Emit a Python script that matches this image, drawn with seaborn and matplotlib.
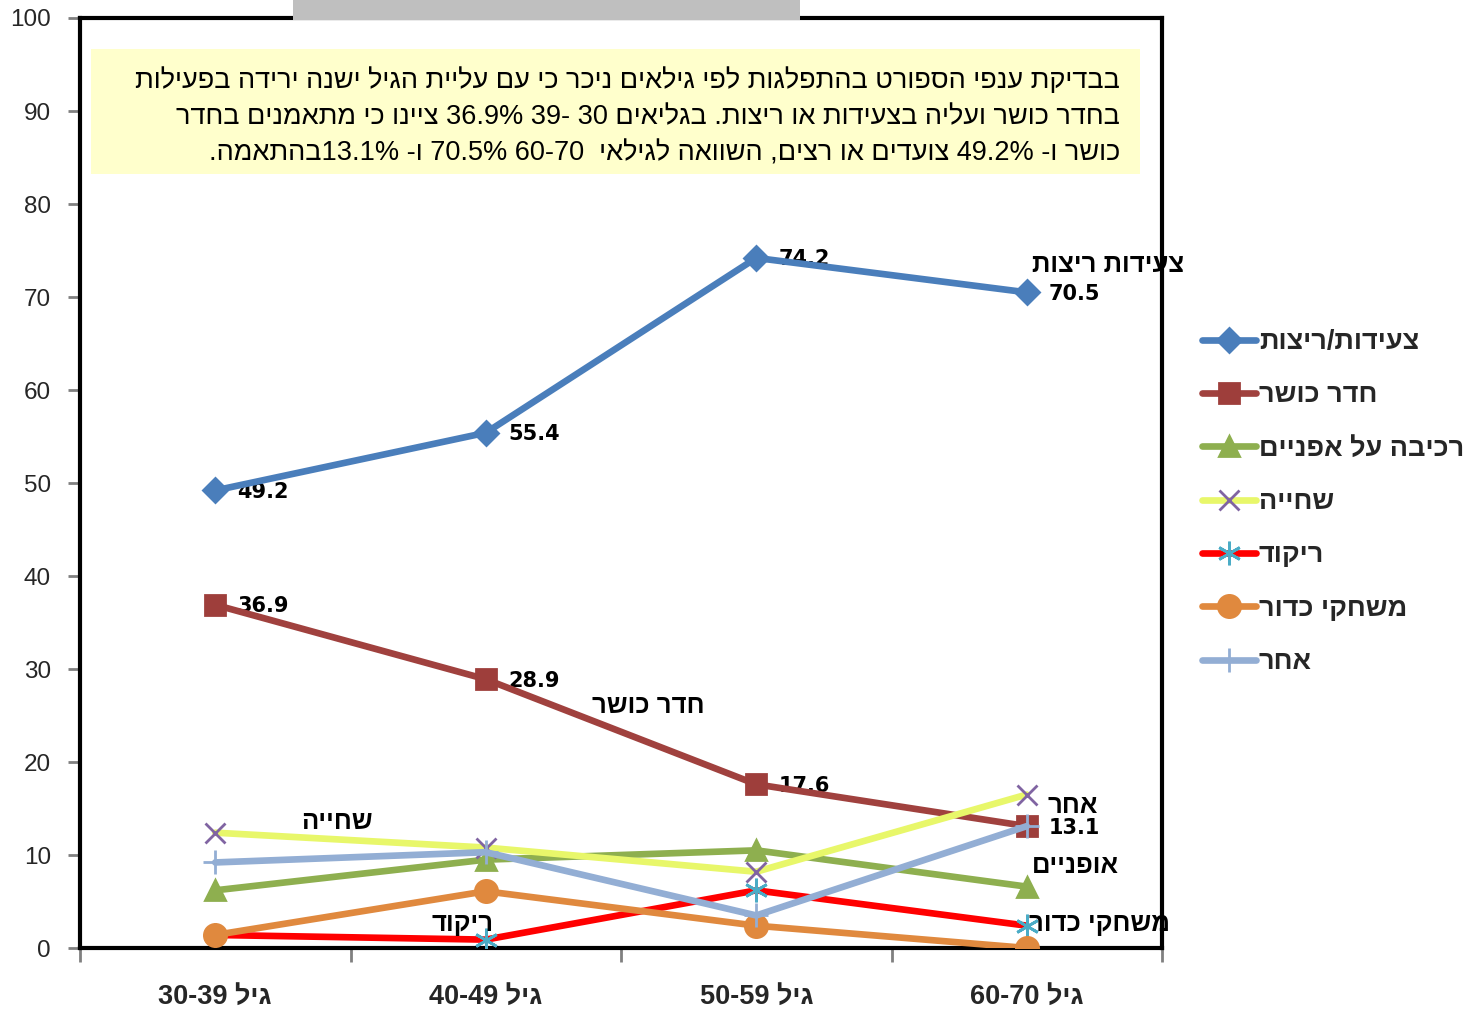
import re
import numpy as np
import matplotlib
matplotlib.use("Agg")
import matplotlib.pyplot as plt
import matplotlib.patches as mpatches
import seaborn as sns

# age groups (logical Hebrew order)
age_groups = ["גיל 30-39", "גיל 40-49", "גיל 50-59", "גיל 60-70"]

series_names = ["צעידות/ריצות", "חדר כושר", "רכיבה על אפניים", "שחייה",
                "ריקוד", "משחקי כדור", "אחר"]
walking = [49.2, 55.4, 74.2, 70.5]
gym = [36.9, 28.9, 17.6, 13.1]
cycling = [6.2, 9.5, 10.5, 6.6]
swimming = [12.4, 10.8, 8.2, 16.5]
dancing = [1.4, 0.9, 6.2, 2.4]
ballgames = [1.4, 6.1, 2.4, 0.0]
other = [9.2, 10.3, 3.5, 13.1]

# in-chart series labels: text, x (category index), y
inline_labels = [
    ("צעידות ריצות", 3.30, 73.4),
    ("חדר כושר", 1.60, 26.0),
    ("שחייה", 0.45, 13.5),
    ("ריקוד", 0.915, 2.6),
    ("אחר", 3.17, 15.3),
    ("אופניים", 3.18, 8.8),
    ("משחקי כדור", 3.27, 2.6),
]

note_lines = [
    "בבדיקת ענפי הספורט בהתפלגות לפי גילאים ניכר כי עם עליית הגיל ישנה ירידה בפעילות",
    "בחדר כושר ועליה בצעידות או ריצות. בגליאים 30 -39 36.9% ציינו כי מתאמנים בחדר",
    "כושר ו- 49.2% צועדים או רצים, השוואה לגילאי  60-70 70.5% ו- 13.1%בהתאמה.",
]


def rtl(s):
    # crude visual ordering for right-to-left text, numbers kept left-to-right
    out = s[::-1]
    return re.sub(r"%?\d(?:[\d.\-]*\d)?", lambda m: m.group(0)[::-1], out)


sns.set_style("white")
plt.rcParams["font.family"] = ["Liberation Sans", "DejaVu Sans"]

fig = plt.figure(figsize=(14.66, 10.13), dpi=100)
ax = fig.add_axes([80 / 1466, 1 - 948 / 1013, 1082 / 1466, 930 / 1013])

x = np.arange(len(age_groups))
all_values = [walking, gym, cycling, swimming, dancing, ballgames, other]
line_colors = ["#4A7EBB", "#A0413E", "#8EAF4F", "#E8F76A", "#FF0000", "#E0893E", "#93AED4"]
marker_colors = ["#4A7EBB", "#9E3E3B", "#8EAF4F", "#8064A2", "#4BACC6", "#E0893E", "#93AED4"]
markers = ["D", "s", "^", "x", (6, 2, 0), "o", "+"]
msizes = [12, 15, 15, 15, 17, 16, 17]

for name, vals, lc, mc, mk, ms in zip(series_names, all_values, line_colors,
                                      marker_colors, markers, msizes):
    sns.lineplot(x=x, y=vals, ax=ax, color=lc, linewidth=4.8, marker=mk,
                 markersize=ms, markerfacecolor=mc, markeredgecolor=mc,
                 markeredgewidth=2, label=rtl(name), zorder=3)

# data labels for the two main series
for vals in [walking, gym]:
    for xi, v in zip(x, vals):
        ax.annotate(f"{v:.1f}", (xi, v), xytext=(16, -1), textcoords="offset points",
                    ha="left", va="center", fontsize=15, fontweight="bold",
                    family="DejaVu Sans", color="black", zorder=2)

for txt, lx, ly in inline_labels:
    ax.text(lx, ly, rtl(txt), ha="center", va="center", fontsize=18.5,
            fontweight="bold", color="black", zorder=4, clip_on=False)

# note box
ax.add_patch(mpatches.Rectangle((-0.46, 83.2), 3.88, 13.5, facecolor="#FFFFCC",
                                edgecolor="none", zorder=1))
for i, line in enumerate(note_lines):
    ax.text(3.345, 93.25 - i * 3.9, rtl(line), ha="right", va="center",
            fontsize=19.5, color="black", zorder=2)

ax.set_xlim(-0.5, 3.5)
ax.set_ylim(0, 100)
ax.set_yticks(np.arange(0, 101, 10))
ax.set_xticks(np.arange(-0.5, 4, 1))
ax.set_xticklabels([])
ax.set_xticks(x, minor=True)
ax.set_xticklabels([rtl(a) for a in age_groups], minor=True, fontsize=19.5,
                   fontweight="bold")
ax.tick_params(axis="x", which="minor", length=0, pad=26)
ax.tick_params(axis="x", which="major", direction="out", length=10, width=2,
               color="#808080", bottom=True)
ax.tick_params(axis="y", direction="out", length=9, width=2, color="#808080",
               left=True, labelsize=17.5, pad=12)
for sp in ax.spines.values():
    sp.set_linewidth(3)
    sp.set_color("black")
ax.set_xlabel("")
ax.set_ylabel("")

leg = ax.legend(loc="upper left", bbox_to_anchor=(1202 / 1466, 1 - 329 / 1013),
                bbox_transform=fig.transFigure, frameon=False, fontsize=19.5,
                handlelength=2.0, handletextpad=0.1, labelspacing=1.01,
                borderaxespad=0, borderpad=0)
for t in leg.get_texts():
    t.set_fontweight("bold")

# grey strip at the top of the frame
fig.patches.append(mpatches.Rectangle((293 / 1466, 1 - 20 / 1013), 507 / 1466,
                                      20 / 1013, transform=fig.transFigure,
                                      facecolor="#BFBFBF", edgecolor="none",
                                      zorder=5))

fig.savefig("out.png", dpi=100)
